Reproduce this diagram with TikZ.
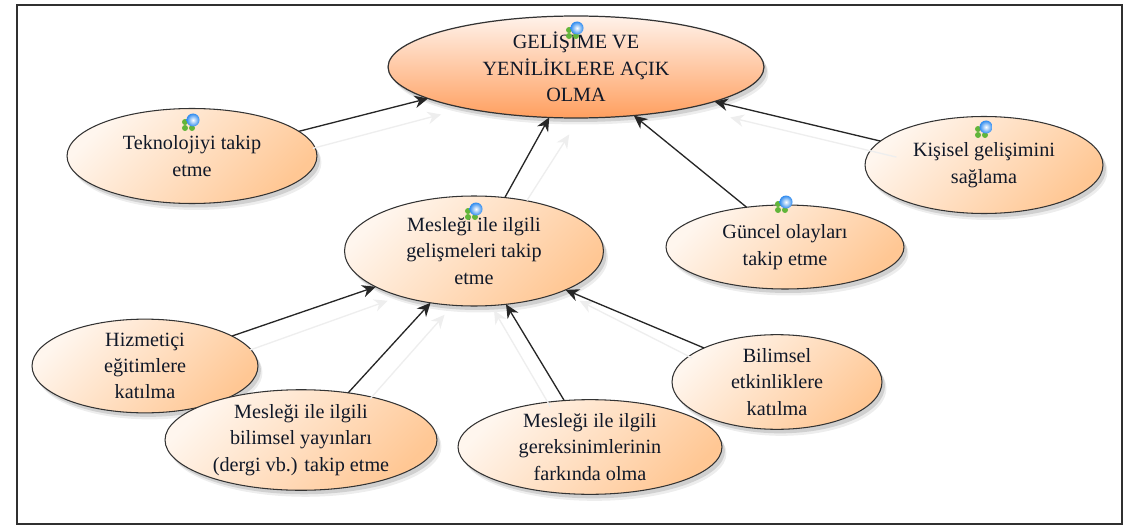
\documentclass[tikz,border=0pt]{standalone}
\usepackage{fontspec}
\setmainfont{Liberation Serif}
\usetikzlibrary{shapes.geometric,shadows,arrows.meta}
\definecolor{textcol}{HTML}{101828}
\definecolor{framecol}{HTML}{303030}
\definecolor{palecol}{HTML}{FFF6EE}
\definecolor{softcol}{HTML}{FFC794}
\definecolor{palemain}{HTML}{FFF2EA}
\definecolor{softmain}{HTML}{FF9F5F}
\definecolor{faintcol}{HTML}{EEEEEE}
\definecolor{ballcol}{HTML}{2F8BEF}
\definecolor{leafcol}{HTML}{62B53A}
\begin{document}
\begin{tikzpicture}[x=0.02cm,y=-0.02cm]
  \tikzset{VertexStyle/.style = {shape=ellipse,draw=black!80,line width=0.6pt,inner sep=0pt,outer sep=0pt,align=center,font=\fontsize{11.5}{15}\selectfont,text=textcol,bottom color=softcol,top color=palecol,shading angle=45,general shadow={shadow xshift=0.09cm,shadow yshift=-0.13cm,fill=black,opacity=0.07},general shadow={shadow xshift=0.06cm,shadow yshift=-0.08cm,fill=black,opacity=0.12}}}
  \tikzset{MainStyle/.style = {VertexStyle,bottom color=softmain,top color=palemain,line width=0.7pt}}
  \tikzset{EdgeStyle/.style = {line width=0.75pt,color=black!85,-{Stealth[length=0.27cm,width=0.25cm]}}}
  \tikzset{FaintStyle/.style = {line width=0.75pt,color=faintcol,-{Stealth[length=0.27cm,width=0.25cm]}}}
  \tikzset{icon/.pic = {
    \fill[leafcol] (-8,2) circle (3);
    \fill[leafcol] (-8,8) circle (3);
    \fill[leafcol] (-1,8) circle (3);
    \shade[inner color=white,outer color=ballcol] (0,0) circle (6.5);
  }}
\useasboundingbox (0,0) rectangle (1129,527);
\fill[white] (0,0) rectangle (1129,527);
\coordinate (f0) at (17,5);
\coordinate (f1) at (1122,524);
\draw[framecol,line width=0.8pt] (f0) rectangle (f1);
\coordinate (v0c) at (576,67);
\coordinate (v1c) at (192,156);
\coordinate (v2c) at (474,251);
\coordinate (v3c) at (785,247);
\coordinate (v4c) at (984,165);
\coordinate (v5c) at (145,366);
\coordinate (v6c) at (301,440);
\coordinate (v7c) at (590,447);
\coordinate (v8c) at (777,382);
%
\node[MainStyle,minimum width=7.52cm,minimum height=2.04cm] (v0) at (v0c) {GELİŞİME VE\\YENİLİKLERE AÇIK\\OLMA};
\node[VertexStyle,minimum width=5.0cm,minimum height=1.9cm] (v1) at (v1c) {Teknolojiyi takip\\etme};
\node[VertexStyle,minimum width=5.18cm,minimum height=2.2cm] (v2) at (v2c) {Mesleği ile ilgili\\gelişmeleri takip\\etme};
\node[VertexStyle,minimum width=4.76cm,minimum height=1.68cm] (v3) at (v3c) {Güncel olayları\\takip etme};
\node[VertexStyle,minimum width=4.76cm,minimum height=1.94cm] (v4) at (v4c) {Kişisel gelişimini\\sağlama};
\node[VertexStyle,minimum width=4.52cm,minimum height=1.8cm] (v5) at (v5c) {Hizmetiçi\\eğitimlere\\katılma};
\node[VertexStyle,minimum width=5.44cm,minimum height=1.84cm] (v6) at (v6c) {Mesleği ile ilgili\\bilimsel yayınları\\(dergi vb.) takip etme};
\node[VertexStyle,minimum width=5.28cm,minimum height=1.76cm] (v7) at (v7c) {Mesleği ile ilgili\\gereksinimlerinin\\farkında olma};
\node[VertexStyle,minimum width=4.2cm,minimum height=1.84cm] (v8) at (v8c) {Bilimsel\\etkinliklere\\katılma};
%
\draw[FaintStyle] ([shift={(14,17)}]v1.13) -- ([shift={(13,16)}]v0.192);
\draw[FaintStyle] ([shift={(22,3)}]v2.60) -- ([shift={(20,17)}]v0.242);
\draw[FaintStyle] ([shift={(16,16)}]v4.167) -- ([shift={(16,16)}]v0.346);
\draw[FaintStyle] ([shift={(18,14)}]v5.19) -- ([shift={(12,14)}]v2.200);
\draw[FaintStyle] ([shift={(22,6)}]v6.45) -- ([shift={(14,12)}]v2.230);
\draw[FaintStyle] ([shift={(-14,6)}]v7.119) -- ([shift={(-12,6)}]v2.301);
\draw[FaintStyle] ([shift={(-12,10)}]v8.155) -- ([shift={(14,11)}]v2.337);
%
\draw[EdgeStyle] (v1.13) -- (v0.192);
\draw[EdgeStyle] (v2.60) -- (v0.242);
\draw[EdgeStyle] (v3.134) -- (v0.320);
\draw[EdgeStyle] (v4.167) -- (v0.346);
\draw[EdgeStyle] (v5.19) -- (v2.200);
\draw[EdgeStyle] (v6.45) -- (v2.230);
\draw[EdgeStyle] (v7.119) -- (v2.301);
\draw[EdgeStyle] (v8.155) -- (v2.337);
%
\pic at (577,28) {icon};
\pic at (193,120) {icon};
\pic at (476,209) {icon};
\pic at (786,202) {icon};
\pic at (986,127) {icon};
\end{tikzpicture}
\end{document}
